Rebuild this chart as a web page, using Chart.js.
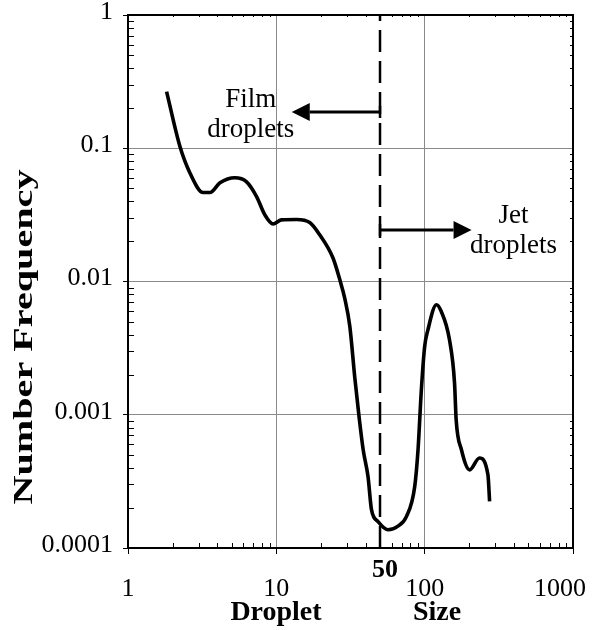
<!DOCTYPE html>
<html>
<head>
<meta charset="utf-8">
<script src="https://cdn.jsdelivr.net/npm/chart.js@4.4.1/dist/chart.umd.min.js"></script>
<style>
    html, body { margin: 0; padding: 0; background: #fff; }
    #wrap { width: 595px; height: 630px; position: relative; }
</style>
</head>
<body>
<div id="wrap"><canvas id="chartDrop"></canvas></div>
<script>
//data - droplet size distribution
const dropletSize = [1.82, 2.24, 2.62, 3.21, 3.57, 4.17, 5.25, 6.3, 7.36, 8.37, 9.5, 10.8, 13.7, 16.8, 19.6, 24.1, 26.8, 28.9, 31.3, 33.8, 36.1, 38.5, 41.5, 43.8, 48.5, 56.6, 66.1, 75.3, 85.7, 90.2, 95, 100, 105, 120, 129, 147, 159, 163, 177, 201, 234, 267, 274];
const numberFreq = [0.266, 0.103, 0.065, 0.0465, 0.0465, 0.055, 0.060, 0.056, 0.0434, 0.0316, 0.027, 0.029, 0.0292, 0.0277, 0.0224, 0.015, 0.0103, 0.0075, 0.0046, 0.0019, 0.00097, 0.000546, 0.000344, 0.000194, 0.000158, 0.000137, 0.000146, 0.000172, 0.00029, 0.000546, 0.00154, 0.00325, 0.0043, 0.0067, 0.006, 0.00365, 0.00173, 0.00092, 0.000546, 0.000386, 0.000473, 0.000355, 0.000224];
const xTicks = [1, 10, 100, 1000];
const yTicks = [0.0001, 0.001, 0.01, 0.1, 1];
const cutSize = 50;

//annotations (data units): [from x, to x, y]
const filmArrow = [50, 12.7, 0.187];
const jetArrow = [50, 207, 0.0244];
//text: [label, x, y baseline]
const notes = [
    ['Film', 6.73, 0.204],
    ['droplets', 6.73, 0.1216],
    ['Jet', 397, 0.0275],
    ['droplets', 397, 0.0164]
];

const serif = '"Liberation Serif", "Times New Roman", serif';

function minorValues(ticks) {
    const out = [];
    for (let i = 0; i < ticks.length - 1; i++) {
        for (let k = 2; k <= 9; k++) out.push(ticks[i] * k);
    }
    return out;
}

function drawArrow(ctx, x0, x1, y) {
    const dir = Math.sign(x1 - x0);
    const headLen = 18, headHalf = 9;
    ctx.lineWidth = 3;
    ctx.beginPath();
    ctx.moveTo(x0, y);
    ctx.lineTo(x1 - dir * headLen, y);
    ctx.stroke();
    ctx.beginPath();
    ctx.moveTo(x1, y);
    ctx.lineTo(x1 - dir * headLen, y - headHalf);
    ctx.lineTo(x1 - dir * headLen, y + headHalf);
    ctx.closePath();
    ctx.fill();
    ctx.lineWidth = 2.5;
    ctx.beginPath();
    ctx.moveTo(x0, y - 6);
    ctx.lineTo(x0, y + 6);
    ctx.stroke();
}

const decorPlugin = {
    id: 'decor',
    afterDraw(chart) {
        const {ctx, chartArea: a, scales: {x, y}} = chart;
        ctx.save();
        ctx.strokeStyle = '#000';
        ctx.fillStyle = '#000';

        //frame
        ctx.lineWidth = 2;
        ctx.strokeRect(a.left, a.top, a.right - a.left, a.bottom - a.top);

        //minor ticks inside
        ctx.lineWidth = 1;
        ctx.beginPath();
        minorValues(xTicks).forEach(v => {
            const px = Math.round(x.getPixelForValue(v)) + 0.5;
            ctx.moveTo(px, a.bottom);
            ctx.lineTo(px, a.bottom - 5);
            ctx.moveTo(px, a.top);
            ctx.lineTo(px, a.top + 2);
        });
        minorValues(yTicks).forEach(v => {
            const py = Math.round(y.getPixelForValue(v)) + 0.5;
            ctx.moveTo(a.left, py);
            ctx.lineTo(a.left + 6, py);
            ctx.moveTo(a.right, py);
            ctx.lineTo(a.right - 3, py);
        });
        ctx.stroke();

        //arrows
        [filmArrow, jetArrow].forEach(([f, t, lv]) => {
            drawArrow(ctx, x.getPixelForValue(f), x.getPixelForValue(t), y.getPixelForValue(lv));
        });

        //notes
        ctx.font = '27px ' + serif;
        ctx.textAlign = 'center';
        ctx.textBaseline = 'alphabetic';
        notes.forEach(([txt, nx, ny]) => {
            ctx.fillText(txt, x.getPixelForValue(nx), y.getPixelForValue(ny));
        });

        //cut size label
        ctx.font = 'bold 26px ' + serif;
        ctx.fillText(String(cutSize), x.getPixelForValue(cutSize) + 5, a.bottom + 29);

        //x title
        ctx.font = 'bold 28px ' + serif;
        ctx.fillText('Droplet', 276, 620);
        ctx.fillText('Size', 437, 620);

        //y title, stretched along its length
        ctx.translate(25, 337);
        ctx.rotate(-Math.PI / 2);
        ctx.textBaseline = 'middle';
        const title = 'Number Frequency';
        const w = ctx.measureText(title).width;
        ctx.scale(335 / w, 1);
        ctx.fillText(title, 0, 0);
        ctx.restore();
    }
};

new Chart(document.getElementById('chartDrop'), {
    type: 'line',
    data: {
        datasets: [
            {
                data: dropletSize.map((s, i) => ({x: s, y: numberFreq[i]})),
                borderColor: '#000',
                borderWidth: 3.6,
                pointRadius: 0,
                cubicInterpolationMode: 'monotone',
                fill: false
            },
            {
                data: [{x: cutSize, y: yTicks[0]}, {x: cutSize, y: yTicks[yTicks.length - 1]}],
                borderColor: '#000',
                borderWidth: 2.5,
                borderDash: [22, 9],
                pointRadius: 0,
                fill: false
            }
        ]
    },
    options: {
        responsive: true,
        maintainAspectRatio: false,
        animation: false,
        layout: {padding: {top: 15, right: 22, left: 0, bottom: 0}},
        plugins: {
            legend: {display: false},
            tooltip: {enabled: false}
        },
        scales: {
            x: {
                type: 'logarithmic',
                min: 1,
                max: 1000,
                afterBuildTicks: s => { s.ticks = xTicks.map(v => ({value: v})); },
                afterFit: s => { s.height = 82; s.paddingLeft = 0; s.paddingRight = 0; },
                ticks: {
                    autoSkip: false,
                    maxRotation: 0,
                    padding: 20,
                    color: '#000',
                    font: {family: serif, size: 26},
                    callback: v => v === 1000 ? '1000\u2003' : String(v)
                },
                grid: {color: '#8a8a8a', lineWidth: 1, tickLength: 6, tickColor: '#000'},
                border: {display: true, color: '#000', width: 2}
            },
            y: {
                type: 'logarithmic',
                min: 0.0001,
                max: 1,
                afterBuildTicks: s => { s.ticks = yTicks.map(v => ({value: v})); },
                afterFit: s => { s.width = 128; s.paddingTop = 0; s.paddingBottom = 0; },
                ticks: {
                    autoSkip: false,
                    padding: 10,
                    labelOffset: -3,
                    color: '#000',
                    font: {family: serif, size: 26},
                    callback: v => String(v)
                },
                grid: {color: '#8a8a8a', lineWidth: 1, tickLength: 5, tickColor: '#000'},
                border: {display: true, color: '#000', width: 2}
            }
        }
    },
    plugins: [decorPlugin]
});
</script>
</body>
</html>
